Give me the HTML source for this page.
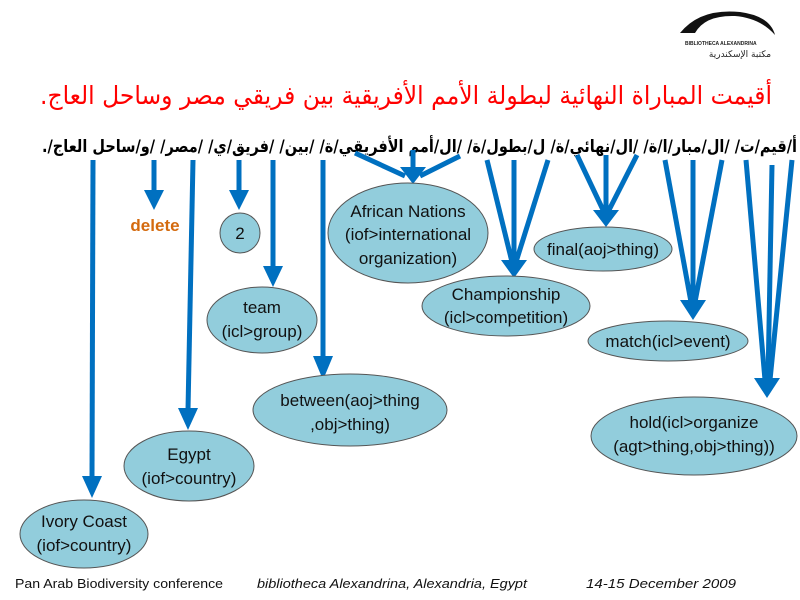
<!DOCTYPE html>
<html><head><meta charset="utf-8">
<style>
html,body{margin:0;padding:0;background:#fff;width:800px;height:600px;overflow:hidden}
svg{display:block}
.n{font-family:"Liberation Sans",sans-serif;font-size:17px;fill:#111;text-anchor:middle}
.e{fill:#92cddc;stroke:#555;stroke-width:1}
.a{stroke:#0070c0;stroke-width:5;fill:none}
.h{fill:#0070c0}
</style></head><body>
<svg width="800" height="600" viewBox="0 0 800 600" xmlns="http://www.w3.org/2000/svg">
<!-- logo -->
<path d="M680 33 Q700 8 740 12 Q770 16 775 35 Q760 18 735 16 Q705 15 695 33 Z" fill="#111"/>
<text x="685" y="45" font-family="Liberation Sans,sans-serif" font-size="5" font-weight="bold" fill="#222">BIBLIOTHECA ALEXANDRINA</text>
<text x="740" y="57" font-family="DejaVu Sans,sans-serif" font-size="9" fill="#222" text-anchor="middle" direction="rtl">مكتبة الإسكندرية</text>

<text x="772" y="104" font-family="DejaVu Sans,sans-serif" font-size="25" fill="#ff0000" text-anchor="start" direction="rtl" textLength="732" lengthAdjust="spacingAndGlyphs">أقيمت المباراة النهائية لبطولة الأمم الأفريقية بين فريقي مصر وساحل العاج.</text>
<text x="797" y="152" font-family="DejaVu Sans,sans-serif" font-size="17" font-weight="bold" fill="#000" text-anchor="start" direction="rtl" textLength="755" lengthAdjust="spacingAndGlyphs">أ/قيم/ت/ /ال/مبار/ا/ة/ /ال/نهائي/ة/ ل/بطول/ة/ /ال/أمم الأفريقي/ة/ /بين/ /فريق/ي/ /مصر/ /و/ساحل العاج/.</text>

<!-- arrows -->
<g>
<line class="a" x1="93" y1="160" x2="92" y2="478"/><polygon class="h" points="82,476 102,476 92,498"/>
<line class="a" x1="154" y1="160" x2="154" y2="192"/><polygon class="h" points="144,190 164,190 154,210"/>
<line class="a" x1="193" y1="160" x2="188" y2="410"/><polygon class="h" points="178,408 198,408 188,430"/>
<line class="a" x1="239" y1="160" x2="239" y2="192"/><polygon class="h" points="229,190 249,190 239,210"/>
<line class="a" x1="273" y1="160" x2="273" y2="268"/><polygon class="h" points="263,266 283,266 273,287"/>
<line class="a" x1="323" y1="160" x2="323" y2="358"/><polygon class="h" points="313,356 333,356 323,380"/>
<line class="a" x1="355" y1="153" x2="405" y2="176"/>
<line class="a" x1="413" y1="150" x2="413" y2="168"/>
<line class="a" x1="460" y1="156" x2="420" y2="176"/>
<polygon class="h" points="400,167 426,167 413,184"/>
<line class="a" x1="487" y1="160" x2="512" y2="262"/>
<line class="a" x1="514" y1="160" x2="514" y2="262"/>
<line class="a" x1="548" y1="160" x2="516" y2="262"/>
<polygon class="h" points="501,260 527,260 514,278"/>
<line class="a" x1="577" y1="155" x2="604" y2="212"/>
<line class="a" x1="606" y1="155" x2="606" y2="212"/>
<line class="a" x1="637" y1="155" x2="608" y2="212"/>
<polygon class="h" points="593,210 619,210 606,227"/>
<line class="a" x1="665" y1="160" x2="691" y2="302"/>
<line class="a" x1="693" y1="160" x2="693" y2="302"/>
<line class="a" x1="722" y1="160" x2="695" y2="302"/>
<polygon class="h" points="680,300 706,300 693,320"/>
<line class="a" x1="746" y1="160" x2="765" y2="380"/>
<line class="a" x1="772" y1="165" x2="768" y2="380"/>
<line class="a" x1="792" y1="160" x2="770" y2="380"/>
<polygon class="h" points="754,378 780,378 767,398"/>
</g>

<text x="155" y="231" font-family="Liberation Sans,sans-serif" font-size="17" font-weight="bold" fill="#d46a0e" text-anchor="middle">delete</text>

<circle class="e" cx="240" cy="233" r="20"/><text class="n" x="240" y="239">2</text>
<ellipse class="e" cx="408" cy="233" rx="80" ry="50"/>
<text class="n" x="408" y="217">African Nations</text><text class="n" x="408" y="240">(iof&gt;international</text><text class="n" x="408" y="264">organization)</text>
<ellipse class="e" cx="603" cy="249" rx="69" ry="22"/><text class="n" x="603" y="255">final(aoj&gt;thing)</text>
<ellipse class="e" cx="506" cy="306" rx="84" ry="30"/>
<text class="n" x="506" y="300">Championship</text><text class="n" x="506" y="323">(icl&gt;competition)</text>
<ellipse class="e" cx="262" cy="320" rx="55" ry="33"/>
<text class="n" x="262" y="313">team</text><text class="n" x="262" y="337">(icl&gt;group)</text>
<ellipse class="e" cx="668" cy="341" rx="80" ry="20"/><text class="n" x="668" y="347">match(icl&gt;event)</text>
<ellipse class="e" cx="350" cy="410" rx="97" ry="36"/>
<text class="n" x="350" y="406">between(aoj&gt;thing</text><text class="n" x="350" y="430">,obj&gt;thing)</text>
<ellipse class="e" cx="694" cy="436" rx="103" ry="39"/>
<text class="n" x="694" y="428">hold(icl&gt;organize</text><text class="n" x="694" y="452">(agt&gt;thing,obj&gt;thing))</text>
<ellipse class="e" cx="189" cy="466" rx="65" ry="35"/>
<text class="n" x="189" y="460">Egypt</text><text class="n" x="189" y="484">(iof&gt;country)</text>
<ellipse class="e" cx="84" cy="534" rx="64" ry="34"/>
<text class="n" x="84" y="527">Ivory Coast</text><text class="n" x="84" y="551">(iof&gt;country)</text>

<g font-family="Liberation Sans,sans-serif" font-size="13" fill="#111">
<text x="15" y="588" textLength="208" lengthAdjust="spacingAndGlyphs">Pan Arab Biodiversity conference</text>
<text x="257" y="588" font-style="italic" textLength="270" lengthAdjust="spacingAndGlyphs">bibliotheca Alexandrina, Alexandria, Egypt</text>
<text x="586" y="588" font-style="italic" textLength="150" lengthAdjust="spacingAndGlyphs">14-15 December  2009</text>
</g>
</svg>
</body></html>
